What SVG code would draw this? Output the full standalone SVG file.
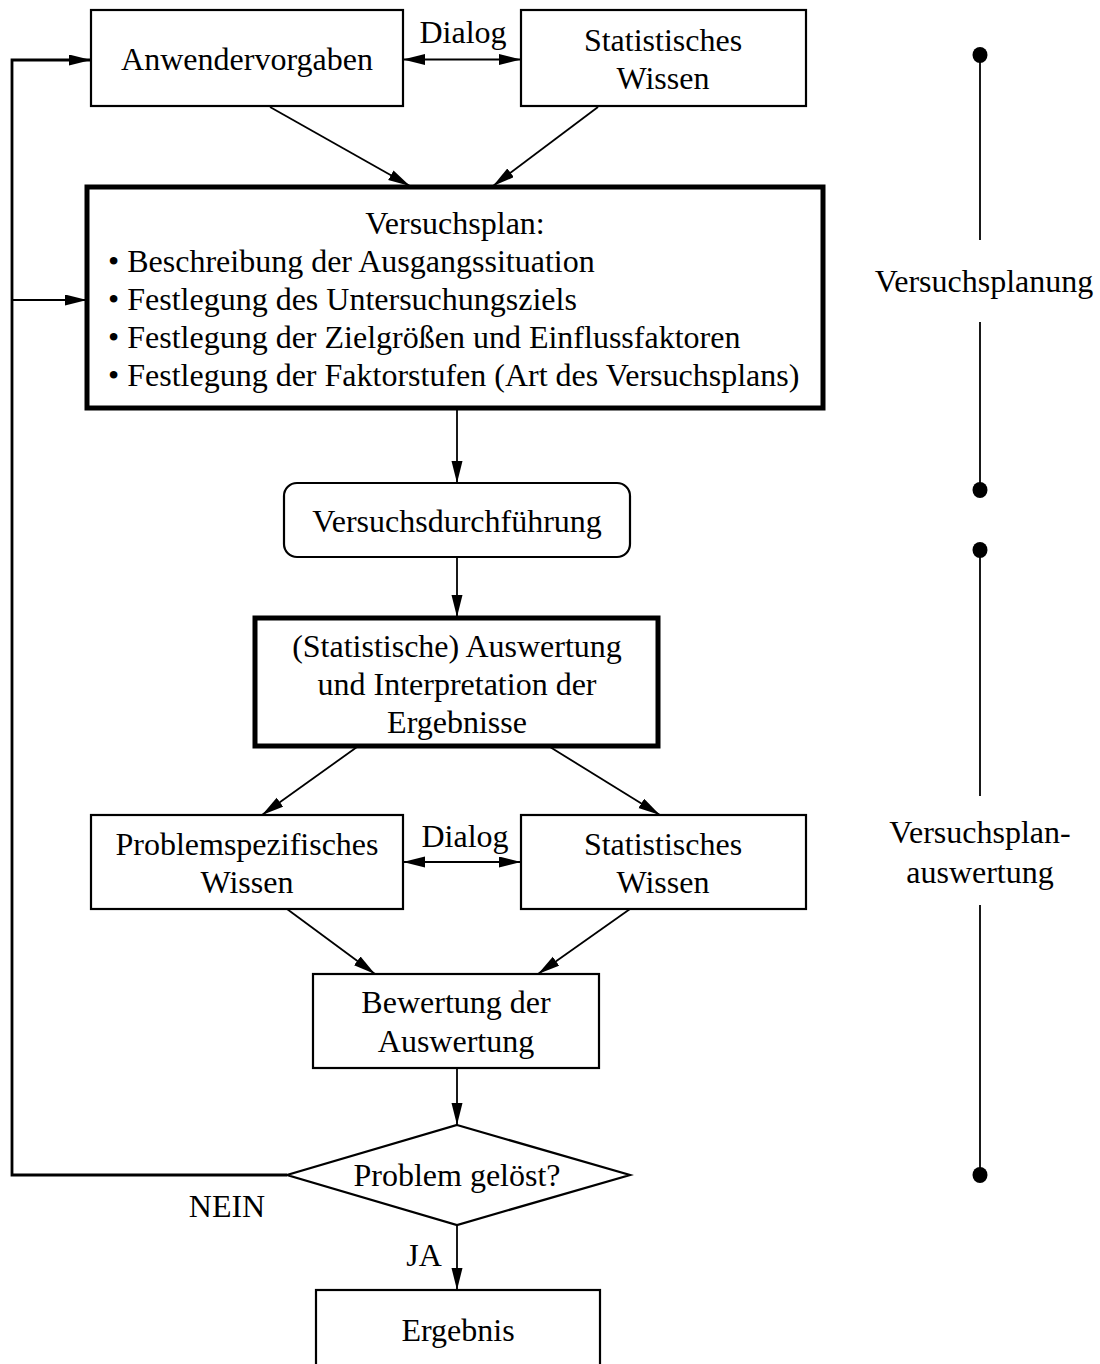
<svg xmlns="http://www.w3.org/2000/svg" width="1100" height="1364" viewBox="0 0 1100 1364">
<defs>
<marker id="ah" markerUnits="userSpaceOnUse" markerWidth="24" markerHeight="12" refX="22" refY="5.5" orient="auto-start-reverse">
<path d="M0,0 L22,5.5 L0,11 Z" fill="#000"/>
</marker>
</defs>
<style>
text{font-family:"Liberation Serif","Times New Roman",serif;font-size:32px;fill:#000}
.c{text-anchor:middle}
.box{fill:#fff;stroke:#000;stroke-width:2.2}
.thick{fill:#fff;stroke:#000;stroke-width:5}
.ln{fill:none;stroke:#000;stroke-width:1.8}
.loop{fill:none;stroke:#000;stroke-width:2.8}
</style>
<rect width="1100" height="1364" fill="#fff"/>
<g id="connectors">
<line class="ln" x1="403" y1="59.5" x2="521" y2="59.5" marker-start="url(#ah)" marker-end="url(#ah)"/>
<line class="ln" x1="270" y1="107" x2="410" y2="186" marker-end="url(#ah)"/>
<line class="ln" x1="598" y1="107" x2="493" y2="186" marker-end="url(#ah)"/>
<line class="ln" x1="457" y1="408" x2="457" y2="483" marker-end="url(#ah)"/>
<line class="ln" x1="457" y1="557" x2="457" y2="617" marker-end="url(#ah)"/>
<line class="ln" x1="357" y1="747" x2="262" y2="815" marker-end="url(#ah)"/>
<line class="ln" x1="550" y1="747" x2="660" y2="815" marker-end="url(#ah)"/>
<line class="ln" x1="403" y1="862" x2="521" y2="862" marker-start="url(#ah)" marker-end="url(#ah)"/>
<line class="ln" x1="287" y1="909" x2="375" y2="974" marker-end="url(#ah)"/>
<line class="ln" x1="630" y1="909" x2="538" y2="974" marker-end="url(#ah)"/>
<line class="ln" x1="457" y1="1068" x2="457" y2="1125" marker-end="url(#ah)"/>
<line class="ln" x1="457" y1="1225" x2="457" y2="1290" marker-end="url(#ah)"/>
<polyline class="loop" points="287,1175 12,1175 12,60 91,60" marker-end="url(#ah)"/>
<line class="ln" x1="12" y1="300" x2="87" y2="300" marker-end="url(#ah)"/>
<text class="c" x="463" y="43">Dialog</text>
<text class="c" x="465" y="847">Dialog</text>
<text class="c" x="227" y="1217">NEIN</text>
<text class="c" x="424" y="1266">JA</text>
</g>
<g id="n-anwender">
<rect class="box" x="91" y="10" width="312" height="96"/>
<text class="c" x="247" y="70">Anwendervorgaben</text>
</g>
<g id="n-stat1">
<rect class="box" x="521" y="10" width="285" height="96"/>
<text class="c" x="663" y="51">Statistisches</text>
<text class="c" x="663" y="89">Wissen</text>
</g>
<g id="n-versuchsplan">
<rect class="thick" x="87" y="187" width="736" height="221"/>
<text class="c" x="455" y="234">Versuchsplan:</text>
<text x="108" y="272">• Beschreibung der Ausgangssituation</text>
<text x="108" y="310">• Festlegung des Untersuchungsziels</text>
<text x="108" y="348">• Festlegung der Zielgrößen und Einflussfaktoren</text>
<text x="108" y="386">• Festlegung der Faktorstufen (Art des Versuchsplans)</text>
</g>
<g id="n-durchfuehrung">
<rect class="box" x="284" y="483" width="346" height="74" rx="13"/>
<text class="c" x="457" y="532">Versuchsdurchführung</text>
</g>
<g id="n-auswertung">
<rect class="thick" x="255" y="618" width="403" height="128"/>
<text class="c" x="457" y="657">(Statistische) Auswertung</text>
<text class="c" x="457" y="695">und Interpretation der</text>
<text class="c" x="457" y="733">Ergebnisse</text>
</g>
<g id="n-problemwissen">
<rect class="box" x="91" y="815" width="312" height="94"/>
<text class="c" x="247" y="855">Problemspezifisches</text>
<text class="c" x="247" y="893">Wissen</text>
</g>
<g id="n-stat2">
<rect class="box" x="521" y="815" width="285" height="94"/>
<text class="c" x="663" y="855">Statistisches</text>
<text class="c" x="663" y="893">Wissen</text>
</g>
<g id="n-bewertung">
<rect class="box" x="313" y="974" width="286" height="94"/>
<text class="c" x="456" y="1013">Bewertung der</text>
<text class="c" x="456" y="1052">Auswertung</text>
</g>
<g id="n-entscheidung">
<polygon class="box" points="457,1125 630,1175 457,1225 287,1175"/>
<text class="c" x="457" y="1186">Problem gelöst?</text>
</g>
<g id="n-ergebnis">
<rect class="box" x="316" y="1290" width="284" height="90"/>
<text class="c" x="458" y="1341">Ergebnis</text>
</g>
<g id="phase-planung">
<line class="ln" x1="980" y1="55" x2="980" y2="240"/>
<line class="ln" x1="980" y1="322" x2="980" y2="490"/>
<ellipse cx="980" cy="55" rx="7.5" ry="8"/>
<ellipse cx="980" cy="490" rx="7.5" ry="8"/>
<text class="c" x="984" y="292">Versuchsplanung</text>
</g>
<g id="phase-auswertung">
<line class="ln" x1="980" y1="550" x2="980" y2="796"/>
<line class="ln" x1="980" y1="905" x2="980" y2="1175"/>
<ellipse cx="980" cy="550" rx="7.5" ry="8"/>
<ellipse cx="980" cy="1175" rx="7.5" ry="8"/>
<text class="c" x="980" y="843">Versuchsplan-</text>
<text class="c" x="980" y="883">auswertung</text>
</g>
</svg>
